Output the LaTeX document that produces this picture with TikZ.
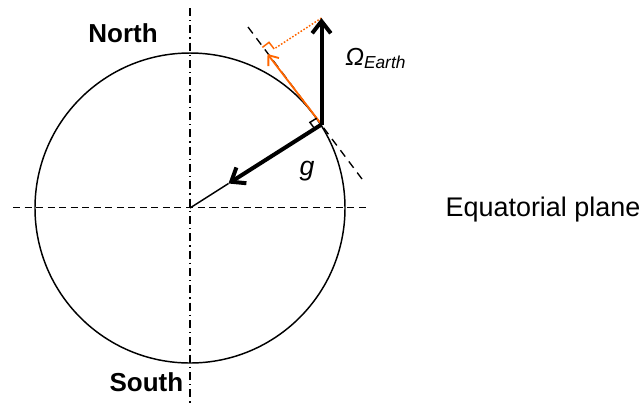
\documentclass[tikz,border=0pt]{standalone}
\usepackage{fontspec}
\setmainfont{Liberation Sans}
\usetikzlibrary{arrows.meta}
\definecolor{vorange}{RGB}{255,102,0}
\begin{document}
\begin{tikzpicture}[x=0.75pt,y=-0.75pt,
  axisline/.style={line width=1pt},
  thickvec/.style={line width=3pt,-{Straight Barb[length=9pt,width=14pt]}},
  orangevec/.style={vorange,line width=1.4pt,-{Straight Barb[length=6.5pt,width=10pt]}},
  lbl/.style={inner sep=0pt,anchor=base}]
\useasboundingbox (0,0) rectangle (642,405);
% coordinates
\coordinate (C) at (190,208);
\coordinate (P) at (321.5,124.5);
\coordinate (O) at (321.5,18);
\coordinate (G) at (228.5,183.5);
\coordinate (T) at (267.5,54);
\coordinate (Q1) at (262.4,47.4);
\coordinate (Q2) at (269.0,42.3);
\coordinate (Q3) at (274.1,48.9);
\coordinate (B1) at (316.6,118.2);
\coordinate (B2) at (309.9,122.4);
\coordinate (B3) at (314.75,128.8);
\coordinate (Vt) at (190,8);
\coordinate (Vb) at (190,405);
\coordinate (Hl) at (13,207.5);
\coordinate (Hr) at (370,207.5);
\coordinate (Ta) at (248,27);
\coordinate (Tb) at (365,183);
% earth
\draw[line width=1.1pt] (C) circle [radius=116.25pt];
% axes
\draw[axisline,dash pattern=on 6pt off 3pt on 1pt off 3pt] (Vt) -- (Vb);
\draw[axisline,dash pattern=on 5.25pt off 3.4pt] (Hl) -- (Hr);
% tangent
\draw[axisline,dash pattern=on 6pt off 4.5pt] (Ta) -- (Tb);
% orange projection
\draw[vorange,line width=1.1pt,dash pattern=on 1.2pt off 1.3pt] (O) -- (Q3);
\draw[vorange,line width=1.1pt] (Q1) -- (Q2) -- (Q3);
\draw[orangevec] (P) -- (T);
% right angle at P
\draw[line width=1.1pt] (B1) -- (B2) -- (B3);
% vectors
\draw[line width=1.1pt] (G) -- (C);
\draw[thickvec] (P) -- (O);
\draw[thickvec] (P) -- (G);
% labels
\node[lbl,font=\fontsize{19.5}{21}\selectfont\bfseries] (north) at (123,42.7) {North};
\node[lbl,font=\fontsize{19.5}{21}\selectfont\bfseries] (south) at (146.4,391.5) {South};
\node[lbl,font=\fontsize{20.2}{22}\selectfont] (eq) at (543,216.5) {Equatorial plane};
\node[lbl,font=\fontsize{20}{22}\selectfont\itshape] (g) at (307,175.5) {g};
\node[inner sep=0pt,anchor=base west] (om) at (345,65) {\fontsize{18.5}{20}\selectfont\itshape Ω\raisebox{-2.5pt}{\fontsize{13}{14}\selectfont Earth}};
\end{tikzpicture}
\end{document}
